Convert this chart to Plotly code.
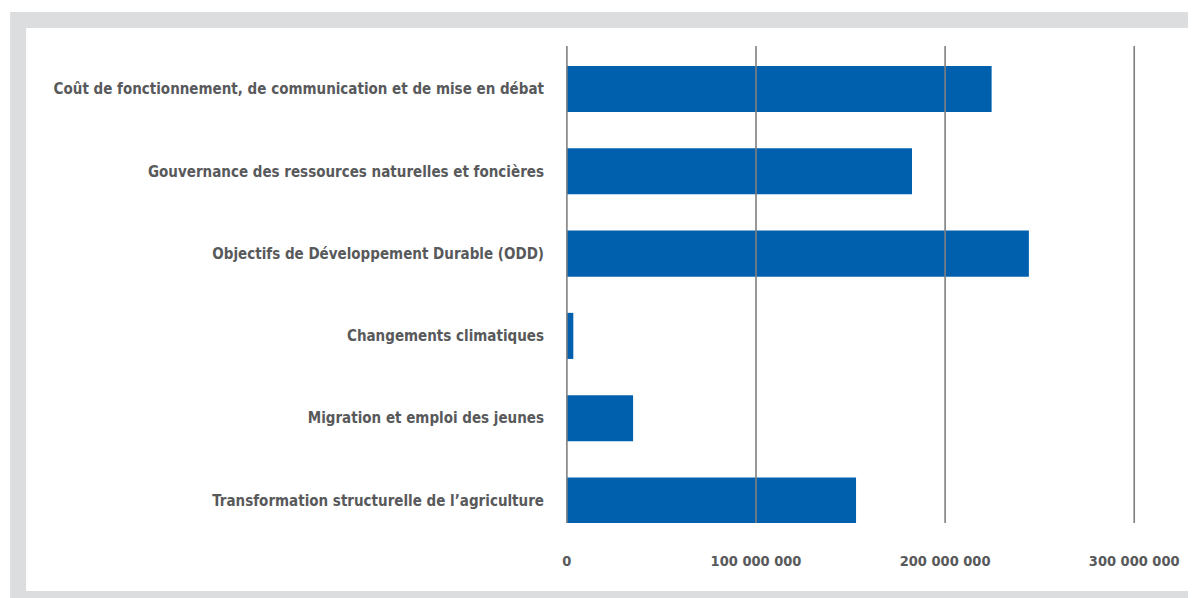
import plotly.graph_objects as go

# Data (top to bottom as shown in chart)
categories = [
    "Coût de fonctionnement, de communication et de mise en débat",
    "Gouvernance des ressources naturelles et foncières",
    "Objectifs de Développement Durable (ODD)",
    "Changements climatiques",
    "Migration et emploi des jeunes",
    "Transformation structurelle de l’agriculture",
]
values = [224_600_000, 182_500_000, 244_300_000, 3_400_000, 35_000_000, 152_900_000]
tick_vals = [0, 100_000_000, 200_000_000, 300_000_000]
tick_text = ["0", "100 000 000", "200 000 000", "300 000 000"]

# page is offset by the default 8px body margin
OFF = 8
W, H = 1196 - OFF, 598 - OFF
# plot area in page pixels: x 564.6..1138.3, y 46..523
ML = 564.6 - OFF
MR = 1196 - 1138.3
MT = 46 - OFF
MB = 598 - 523
PW, PH = W - ML - MR, H - MT - MB

def px(x):
    return (x - OFF - ML) / PW

def py(y):
    return 1 - (y - OFF - MT) / PH

FONT = "Liberation Sans Narrow, DejaVu Sans Condensed, Arial Narrow, sans-serif"
TXT = "#58595b"
BAR = "#0060ad"
GRID = "#7f7f7f"

# bottom-to-top order for numeric positions
cats_bt = categories[::-1]
vals_bt = values[::-1]
ypos = list(range(len(cats_bt)))

fig = go.Figure(go.Bar(
    x=vals_bt, y=ypos, orientation="h", width=0.56,
    marker=dict(color=BAR, line=dict(width=0)),
    hoverinfo="x+text", text=cats_bt, textposition="none",
))

shapes = [
    dict(type="rect", xref="paper", yref="paper", x0=px(9), x1=px(1200), y0=py(602), y1=py(12),
         fillcolor="#dcdddf", line=dict(width=0), layer="below"),
    dict(type="rect", xref="paper", yref="paper", x0=px(25), x1=px(1194.5), y0=py(591), y1=py(28),
         fillcolor="white", line=dict(width=0), layer="below"),
]
for tv in tick_vals:
    shapes.append(dict(type="line", xref="x", yref="paper", x0=tv, x1=tv, y0=0, y1=1,
                       line=dict(color=GRID, width=1.6), layer="above"))

fig.update_layout(
    width=W, height=H,
    margin=dict(l=ML, r=MR, t=MT, b=MB, pad=0, autoexpand=False),
    paper_bgcolor="white", plot_bgcolor="rgba(0,0,0,0)",
    showlegend=False,
    shapes=shapes,
    font=dict(family=FONT, color=TXT),
    xaxis=dict(range=[-1_000_000, 302_000_000], tickvals=tick_vals, ticktext=tick_text,
               showgrid=False, zeroline=False, showline=False, ticks="",
               automargin=False, ticklabelstandoff=27,
               tickfont=dict(family=FONT, size=14.5, color=TXT, weight="bold")),
    yaxis=dict(range=[-0.2735, 5.5225], tickvals=ypos, ticktext=cats_bt,
               showgrid=False, zeroline=False, showline=False, ticks="",
               automargin=False, ticklabelstandoff=20,
               tickfont=dict(family=FONT, size=15, color=TXT, weight="bold")),
)

fig.write_html("out.html")
